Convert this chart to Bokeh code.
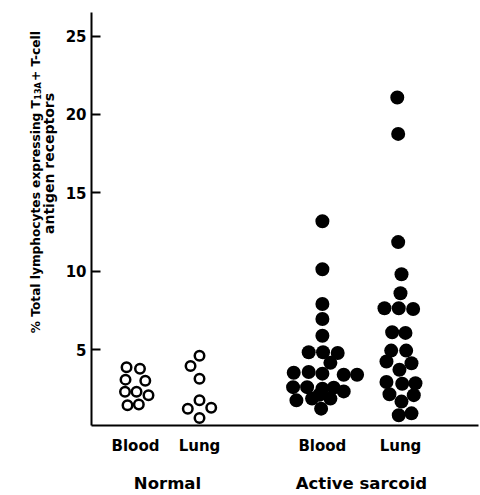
import math
from bokeh.plotting import figure
from bokeh.layouts import row
from bokeh.models import FixedTicker, LinearAxis
from bokeh.core.properties import value
from bokeh.embed import file_html
from bokeh.resources import INLINE

# ---------------- data ----------------
group_names = ["Blood", "Lung", "Blood", "Lung"]
group_pos = [1.0, 2.0, 3.92, 5.14]
condition_names = ["Normal", "Active sarcoid"]
condition_pos = [1.5, 4.53]

normal_blood_vals = [3.88, 3.79, 3.09, 3.02, 2.32, 2.32, 2.10, 1.46, 1.50]
normal_blood_jit = [-0.14, 0.07, -0.156, 0.153, -0.164, 0.016, 0.203, -0.125, 0.052]

normal_lung_vals = [4.62, 3.96, 3.15, 1.77, 1.24, 1.29, 0.65]
normal_lung_jit = [0.0, -0.14, 0.0, 0.0, -0.183, 0.183, 0.0]

sarc_blood_vals = [13.19, 10.13, 7.91, 6.96, 5.89, 4.84, 4.84, 4.79, 4.16, 3.53,
                   3.58, 3.47, 3.40, 3.40, 2.61, 2.61, 2.51, 2.58, 2.34, 1.77,
                   1.88, 1.88, 1.24, 2.13]
sarc_blood_jit = [0.0, 0.0, 0.0, 0.0, 0.0, -0.214, 0.01, 0.239, 0.125, -0.448,
                  -0.214, 0.0, 0.333, 0.542, -0.458, -0.239, 0.0, 0.177, 0.333, -0.406,
                  -0.161, 0.125, -0.02, -0.047]

sarc_lung_vals = [21.08, 18.76, 11.86, 9.81, 8.60, 7.64, 7.64, 7.59, 6.11, 6.07,
                  4.94, 4.94, 4.25, 4.13, 3.72, 2.94, 2.83, 2.86, 2.16, 2.10,
                  1.69, 0.82, 0.94]
sarc_lung_jit = [-0.05, -0.036, -0.036, 0.016, 0.0, -0.25, -0.027, 0.198, -0.13, 0.078,
                 -0.145, 0.089, -0.219, 0.172, -0.016, -0.219, 0.027, 0.234, -0.172, 0.208,
                 0.016, -0.027, 0.172]

y_ticks = [5, 10, 15, 20, 25]
ylabel_pre = "% Total lymphocytes expressing T"
ylabel_sub = "13A"
ylabel_post = "+ T-cell"
ylabel_line2 = "antigen receptors"

# ---------------- layout ----------------
H = 495
TW = 60                      # width of the strip holding the rotated title
W = 480 - TW
FL, FR, FT, FB = 91 - TW, 2, 12, 68
X0, X1 = 0.3125, 6.359
Y0, Y1 = 0.165, 26.5
FONT = "DejaVu Sans"

# ---- title strip (pixel coordinates, y measured from the bottom) ----
t = figure(width=TW, height=H, x_range=(0, TW), y_range=(0, H),
           output_backend="svg", toolbar_location=None,
           x_axis_location=None, y_axis_location=None,
           min_border_left=0, min_border_right=0, min_border_top=0,
           min_border_bottom=0)
t.outline_line_color = None
t.grid.visible = False
t.border_fill_color = "white"
t.background_fill_color = "white"

ang = math.pi / 2
anchor = H - 105
tcommon = dict(angle=ang, text_font=value(FONT), text_font_style="bold",
               text_color="black", text_baseline="middle")
t.text(x=[35], y=[anchor], text=[ylabel_pre], text_align="right",
       text_font_size="12.2px", **tcommon)
t.text(x=[38], y=[anchor + 0.5], text=[ylabel_sub], text_align="left",
       text_font_size="8px", **tcommon)
t.text(x=[35], y=[anchor + 23], text=[ylabel_post], text_align="left",
       text_font_size="12.2px", **tcommon)
t.text(x=[48], y=[H - 181], text=[ylabel_line2], text_align="center",
       text_font_size="14px", **tcommon)

# ---- main plot ----
p = figure(width=W, height=H, x_range=(X0, X1), y_range=(Y0, Y1),
           output_backend="svg", toolbar_location=None,
           min_border_left=FL, min_border_right=FR, min_border_top=FT,
           min_border_bottom=FB)
p.outline_line_color = None
p.grid.visible = False
p.background_fill_color = "white"
p.border_fill_color = "white"

# y axis
ya = p.yaxis[0]
ya.ticker = FixedTicker(ticks=y_ticks)
ya.axis_line_width = 2
ya.axis_line_color = "black"
ya.major_tick_line_width = 2
ya.major_tick_line_color = "black"
ya.major_tick_in = 9
ya.major_tick_out = 0
ya.minor_tick_line_color = None
ya.major_label_standoff = 5
ya.major_label_text_font = FONT
ya.major_label_text_font_style = "bold"
ya.major_label_text_font_size = "15px"
ya.major_label_text_color = "black"

# x axis with subgroup labels
xa = p.xaxis[0]
xa.ticker = FixedTicker(ticks=group_pos)
xa.major_label_overrides = {v: n for v, n in zip(group_pos, group_names)}
xa.axis_line_width = 2
xa.axis_line_color = "black"
xa.major_tick_line_color = None
xa.minor_tick_line_color = None
xa.major_tick_in = 0
xa.major_tick_out = 0
xa.major_label_standoff = 11
xa.major_label_text_font = FONT
xa.major_label_text_font_style = "bold"
xa.major_label_text_font_size = "15px"
xa.major_label_text_color = "black"

# second axis below with condition labels
xa2 = LinearAxis(ticker=FixedTicker(ticks=condition_pos),
                 major_label_overrides={v: n for v, n in zip(condition_pos, condition_names)})
xa2.axis_line_color = None
xa2.major_tick_line_color = None
xa2.minor_tick_line_color = None
xa2.major_tick_in = 0
xa2.major_tick_out = 0
xa2.major_label_standoff = 16
xa2.major_label_text_font = FONT
xa2.major_label_text_font_style = "bold"
xa2.major_label_text_font_size = "16.5px"
xa2.major_label_text_color = "black"
p.add_layout(xa2, "below")

# points
nb_x = [group_pos[0] + j for j in normal_blood_jit]
nl_x = [group_pos[1] + j for j in normal_lung_jit]
sb_x = [group_pos[2] + j for j in sarc_blood_jit]
sl_x = [group_pos[3] + j for j in sarc_lung_jit]

p.scatter(nb_x + nl_x, normal_blood_vals + normal_lung_vals, size=9.5,
          line_width=2.5, line_color="black", fill_color="white")
p.scatter(sb_x + sl_x, sarc_blood_vals + sarc_lung_vals, size=14,
          line_width=0, line_color=None, fill_color="black")

layout = row(t, p, spacing=0)
open("out.html", "w").write(file_html(layout, INLINE))
